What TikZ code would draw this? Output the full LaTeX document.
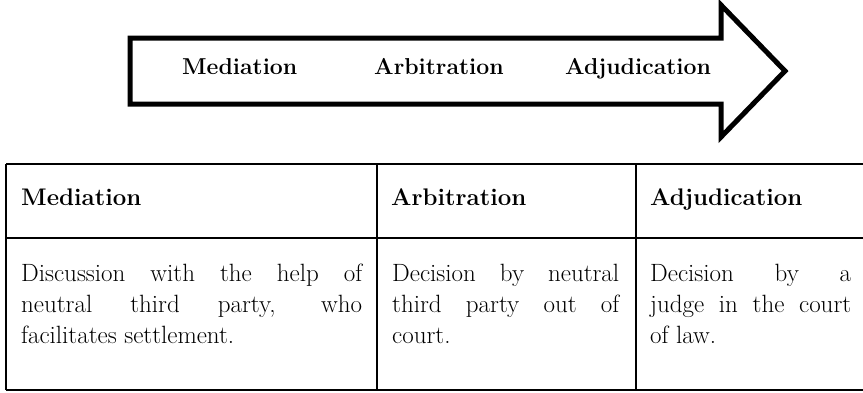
\documentclass[tikz,border=0pt]{standalone}
\usepackage{fontspec}
\usepackage{xcolor}
\usetikzlibrary{shapes,arrows}

\tikzset{
  stage/.style={anchor=base west, inner sep=0pt, font=\fontsize{23}{28}\selectfont\bfseries},
  colhead/.style={anchor=base west, inner sep=0pt, font=\fontsize{24}{31}\selectfont\bfseries},
  cell/.style={anchor=north west, inner sep=0pt, align=justify, font=\fontsize{25}{31}\selectfont},
  rule/.style={line width=1.6pt}
}

\begin{document}
\begin{tikzpicture}[x=1pt,y=-1pt]
  \useasboundingbox (0,0) rectangle (863,392);

  % Draw the big arrow with a thick black line
  \draw[line width=5pt, line join=miter]
    (130,38) -- (721,38) -- (721,5) -- (785,71) -- (721,137) -- (721,104) -- (130,104) -- cycle;

  % Label the three stages inside the arrow
  \node[stage] (med) at (182,74) {Mediation};
  \node[stage] (arb) at (374,74) {Arbitration};
  \node[stage] (adj) at (565,74) {Adjudication};

  % Draw the table lines
  \draw[rule] (6,164) -- (866,164);
  \draw[rule] (6,238) -- (866,238);
  \draw[rule] (6,390) -- (866,390);
  \draw[rule] (6,164) -- (6,390);
  \draw[rule] (377,164) -- (377,390);
  \draw[rule] (636,164) -- (636,390);

  % Column headings
  \node[colhead] (hmed) at (21,205) {Mediation};
  \node[colhead] (harb) at (391,205) {Arbitration};
  \node[colhead] (hadj) at (650,205) {Adjudication};

  % Text of each column
  \node[cell, text width=341pt] (tmed) at (21,263.5)
    {Discussion with the help of\linebreak neutral third party, who\linebreak facilitates settlement.};
  \node[cell, text width=227pt] (tarb) at (392,263.5)
    {Decision by neutral\linebreak third party out of\linebreak court.};
  \node[cell, text width=201pt] (tadj) at (650,263.5)
    {Decision by a\linebreak judge in the court\linebreak of law.};
\end{tikzpicture}
\end{document}
